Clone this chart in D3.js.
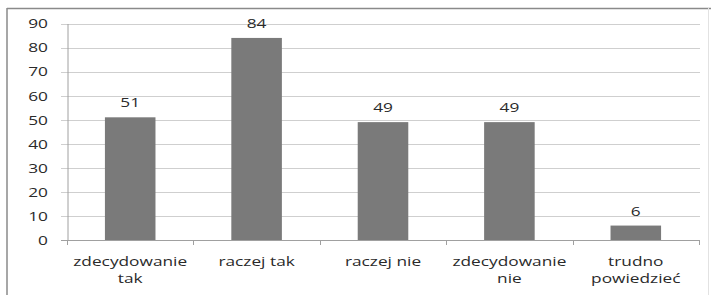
<!DOCTYPE html>
<html><head><meta charset="utf-8">
<script src="https://cdn.jsdelivr.net/npm/d3@7"></script>
<style>
html,body{margin:0;padding:0;background:#fff;}
svg{display:block;}
text{font-family:"Open Sans","DejaVu Sans",sans-serif;fill:#2a2a2a;}
</style></head>
<body>
<svg id="chart" width="711" height="295"></svg>
<script>
const categories = ["zdecydowanie tak", "raczej tak", "raczej nie", "zdecydowanie nie", "trudno powiedzieć"];
const values = [51, 84, 49, 49, 6];
const yTicks = [0, 10, 20, 30, 40, 50, 60, 70, 80, 90];

(function () {
const svg = d3.select("#chart");
const fontSize = 13.5;
const stretch = 1.28;

// frame
svg.append("line").attr("x1", 7).attr("x2", 711).attr("y1", 8.5).attr("y2", 8.5)
  .attr("stroke", "#8a8a8a").attr("stroke-width", 1.5);
svg.append("line").attr("x1", 7).attr("x2", 7).attr("y1", 8).attr("y2", 295)
  .attr("stroke", "#8a8a8a").attr("stroke-width", 1.5);
svg.append("line").attr("x1", 708.5).attr("x2", 708.5).attr("y1", 8).attr("y2", 295)
  .attr("stroke", "#e2e2e2").attr("stroke-width", 1);

const pLeft = 67, pRight = 699, pTop = 23.5, pBottom = 240;
const x = d3.scaleBand().domain(categories).range([pLeft, pRight]).paddingInner(0.6).paddingOuter(0.3);
const y = d3.scaleLinear().domain([0, 90]).range([pBottom, pTop]);

// gridlines
svg.append("g").selectAll("line").data(yTicks).join("line")
  .attr("x1", pLeft - 6).attr("x2", pRight + 1)
  .attr("y1", d => Math.round(y(d)) + 0.5).attr("y2", d => Math.round(y(d)) + 0.5)
  .attr("stroke", "#cfcfcf").attr("stroke-width", 1.2);

// y axis
const yAxis = svg.append("g").attr("transform", `translate(${pLeft + 0.5},0)`)
  .call(d3.axisLeft(y).tickValues(yTicks).tickSize(0).tickPadding(0));
yAxis.select(".domain").attr("stroke", "#a0a0a0");
yAxis.selectAll("text").remove();
svg.append("g").selectAll("text").data(yTicks).join("text")
  .attr("transform", d => `translate(${pLeft - 19},${y(d)}) scale(${stretch},1)`)
  .attr("text-anchor", "end").attr("dy", "0.36em")
  .style("font-size", fontSize + "px").text(d => d);

// x axis
const step = x.step();
const bounds = categories.map((c, i) => pLeft + i * step).concat([pRight]);
svg.append("line").attr("x1", pLeft - 6).attr("x2", pRight + 1).attr("y1", pBottom + 0.5).attr("y2", pBottom + 0.5)
  .attr("stroke", "#a0a0a0");
svg.append("g").selectAll("line").data(bounds).join("line")
  .attr("x1", d => Math.round(d) + 0.5).attr("x2", d => Math.round(d) + 0.5)
  .attr("y1", pBottom).attr("y2", pBottom + 5).attr("stroke", "#a0a0a0");

// bars
svg.append("g").selectAll("rect").data(values).join("rect")
  .attr("x", (d, i) => x(categories[i])).attr("width", x.bandwidth())
  .attr("y", d => y(d)).attr("height", d => y(0) - y(d))
  .attr("fill", "#7a7a7a");

// value labels
svg.append("g").selectAll("text").data(values).join("text")
  .attr("transform", (d, i) => `translate(${x(categories[i]) + x.bandwidth() / 2},${y(d) - 10}) scale(${stretch},1)`)
  .attr("text-anchor", "middle").style("font-size", fontSize + "px").text(d => d);

// category labels with wrapping
const maxW = (step - 10) / stretch;
const catG = svg.append("g");
categories.forEach((c, i) => {
  const cx = x(c) + x.bandwidth() / 2;
  const t = catG.append("text")
    .attr("transform", `translate(${cx},266) scale(${stretch},1)`)
    .attr("text-anchor", "middle").style("font-size", fontSize + "px");
  const words = c.split(" ");
  let lines = [], cur = "";
  const probe = catG.append("text").style("font-size", fontSize + "px");
  words.forEach(w => {
    const test = cur ? cur + " " + w : w;
    probe.text(test);
    if (probe.node().getComputedTextLength() > maxW && cur) { lines.push(cur); cur = w; }
    else cur = test;
  });
  lines.push(cur);
  probe.remove();
  lines.forEach((l, j) => t.append("tspan").attr("x", 0).attr("y", j * 17).text(l));
});
})();
</script>
</body></html>
